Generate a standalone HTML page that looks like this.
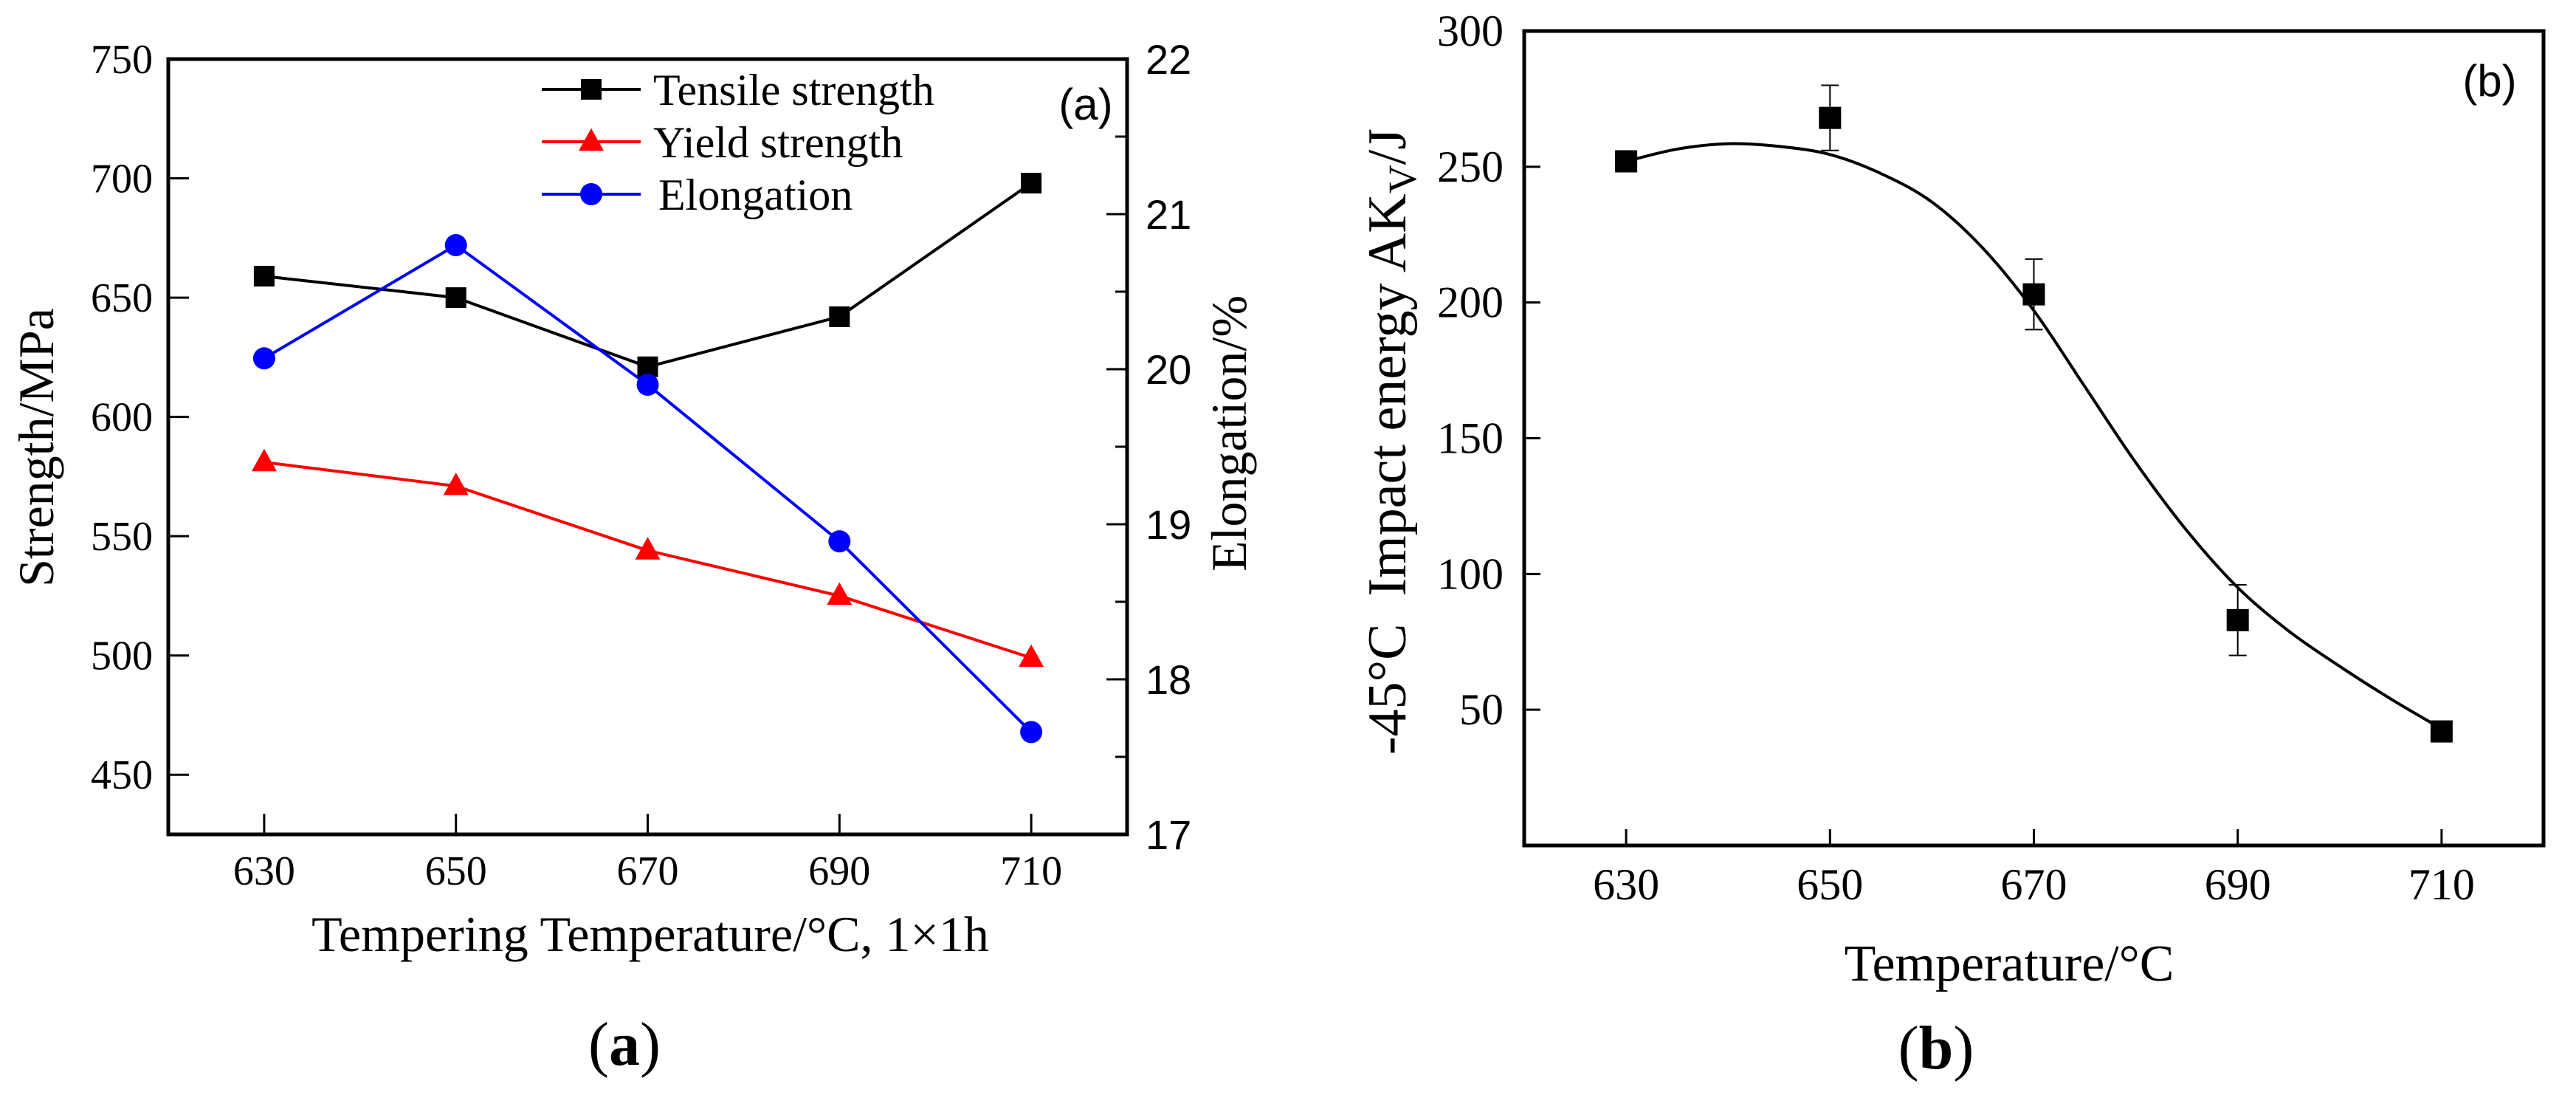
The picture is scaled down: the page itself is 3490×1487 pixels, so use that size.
<!DOCTYPE html>
<html><head><meta charset="utf-8">
<style>
html,body{margin:0;padding:0;background:#fff;}
svg{display:block;}
text{font-family:"Liberation Serif",serif;fill:#000;}
.sans{font-family:"Liberation Sans",sans-serif;}
</style></head>
<body>
<svg id="fig" width="3490" height="1487" viewBox="0 0 3490 1487" xmlns="http://www.w3.org/2000/svg">
<g id="pa"></g>
<g id="pb"></g>
</svg>
<script>
// Panel (a) data
const tempsA = [630, 650, 670, 690, 710];
const tensile = [659, 650, 621, 642, 698];
const yieldS = [581, 571, 544, 525, 499];
const elong = [20.07, 20.80, 19.90, 18.89, 17.66];
const xTicksA = [630, 650, 670, 690, 710];
const yTicksA = [450, 500, 550, 600, 650, 700, 750];
const y2TicksA = [17, 18, 19, 20, 21, 22];
// Panel (b) data
const tempsB = [630, 650, 670, 690, 710];
const impact = [252, 268, 203, 83, 42];
const impactErr = [3, 12, 13, 13, 2];
const fitX = [630,635,640,645,650,655,660,665,670,675,680,685,690,695,700,705,710];
const fitY = [252,256.5,258.5,257.5,254.5,247.5,237,220,197,169,141,116,95,79,66,54,43];
const yTicksB = [50, 100, 150, 200, 250, 300];
const xTicksB = [630, 650, 670, 690, 710];

const NS = "http://www.w3.org/2000/svg";
function mk(parent, tag, attrs, txt){
  const e = document.createElementNS(NS, tag);
  for (const k in attrs) e.setAttribute(k, attrs[k]);
  if (txt !== undefined) e.textContent = txt;
  parent.appendChild(e);
  return e;
}
// ---------- Panel A ----------
const A = document.getElementById('pa');
const aL=228, aR=1527, aT=80, aB=1130;
const xa = v => aL + (v-620)/(720-620)*(aR-aL);
const ya = v => aB - (v-425)/(750-425)*(aB-aT);
const ya2 = v => aB - (v-17)/(22-17)*(aB-aT);

let e;
e = mk(A,'rect',{x:aL,y:aT,width:aR-aL,height:aB-aT,fill:'none',stroke:'#000','stroke-width':5});


xTicksA.forEach(t=>{
  e = mk(A,'line',{x1:xa(t),x2:xa(t),y1:aB,y2:aB-28,stroke:'#000','stroke-width':3});
  
  
  e = mk(A,'text',{x:xa(t),y:1198,'font-size':56,'text-anchor':'middle'},String(t));
  
  
});
yTicksA.forEach(t=>{
  e = mk(A,'line',{x1:aL,x2:aL+28,y1:ya(t),y2:ya(t),stroke:'#000','stroke-width':3});
  
  
  e = mk(A,'text',{x:207,y:ya(t)+19,'font-size':56,'text-anchor':'end'},String(t));
  
  
});
y2TicksA.forEach((t,i)=>{
  e = mk(A,'line',{x1:aR,x2:aR-28,y1:ya2(t),y2:ya2(t),stroke:'#000','stroke-width':3});
  
  
  if (i < y2TicksA.length-1){
    e = mk(A,'line',{x1:aR,x2:aR-16,y1:ya2(t+0.5),y2:ya2(t+0.5),stroke:'#000','stroke-width':3});
    
    
  }
  e = mk(A,'text',{x:1552,y:ya2(t)+20,'font-size':56,'class':'sans'},String(t));
  
  
});
e = mk(A,'text',{x:881,y:1288,'font-size':68,'text-anchor':'middle'},'Tempering Temperature/°C, 1×1h');


e = mk(A,'text',{x:0,y:0,'font-size':68,'text-anchor':'middle',transform:'translate(72,606) rotate(-90)'},'Strength/MPa');


e = mk(A,'text',{x:0,y:0,'font-size':68,'text-anchor':'middle',transform:'translate(1688,587) rotate(-90)'},'Elongation/%');


e = mk(A,'text',{x:1471,y:162,'font-size':60,'text-anchor':'middle','class':'sans'},'(a)');



function poly(parent, pts, color, name){
  const el = mk(parent,'polyline',{points:pts.map(p=>p.join(',')).join(' '),fill:'none',stroke:color,'stroke-width':4});
  
  
}
function square(parent,x,y,s,color){
  const el = mk(parent,'rect',{x:x-s/2,y:y-s/2,width:s,height:s,fill:color});
  
  
}
function tri(parent,x,y,s,color){
  const h = s*0.9;
  const el = mk(parent,'polygon',{points:`${x},${y-h*0.6} ${x-s/2},${y+h*0.4} ${x+s/2},${y+h*0.4}`,fill:color});
  
  
}
function circ(parent,x,y,r,color){
  const el = mk(parent,'circle',{cx:x,cy:y,r:r,fill:color});
  
  
}
poly(A, tempsA.map((t,i)=>[xa(t),ya(tensile[i])]), '#000', 'tensile-line');
poly(A, tempsA.map((t,i)=>[xa(t),ya(yieldS[i])]), '#f00', 'yield-line');
poly(A, tempsA.map((t,i)=>[xa(t),ya2(elong[i])]), '#00f', 'elongation-line');
tempsA.forEach((t,i)=>square(A,xa(t),ya(tensile[i]),28,'#000'));
tempsA.forEach((t,i)=>tri(A,xa(t),ya(yieldS[i]),34,'#f00'));
tempsA.forEach((t,i)=>circ(A,xa(t),ya2(elong[i]),15,'#00f'));
// legend
const leg = [['Tensile strength','#000','sq',121],['Yield strength','#f00','tri',192],['Elongation','#00f','ci',263]];
leg.forEach(l=>{
  const g = mk(A,'g',{});
  
  
  mk(g,'line',{x1:734,x2:868,y1:l[3],y2:l[3],stroke:l[1],'stroke-width':4});
  if(l[2]==='sq') square(g,801,l[3],28,l[1]);
  if(l[2]==='tri') tri(g,801,l[3],34,l[1]);
  if(l[2]==='ci') circ(g,801,l[3],15,l[1]);
  mk(g,'text',{x:l[2]==='ci'?892:885,y:l[3]+21,'font-size':60},l[0]);
});
e = mk(A,'text',{x:846,y:1442,'font-size':84,'text-anchor':'middle'},'');


mk(e,'tspan',{},'(');
mk(e,'tspan',{'font-weight':'bold'},'a');
mk(e,'tspan',{},')');

// ---------- Panel B ----------
const B = document.getElementById('pb');
const bL=2065, bR=3446, bT=42, bB=1145;
const xb = v => bL + (v-620)/(720-620)*(bR-bL);
const yb = v => bB - (v-0)/(300-0)*(bB-bT);
e = mk(B,'rect',{x:bL,y:bT,width:bR-bL,height:bB-bT,fill:'none',stroke:'#000','stroke-width':5});


xTicksB.forEach(t=>{
  e = mk(B,'line',{x1:xb(t),x2:xb(t),y1:bB,y2:bB-22,stroke:'#000','stroke-width':3});
  
  
  e = mk(B,'text',{x:xb(t),y:1218,'font-size':60,'text-anchor':'middle'},String(t));
  
  
});
yTicksB.forEach(t=>{
  e = mk(B,'line',{x1:bL,x2:bL+22,y1:yb(t),y2:yb(t),stroke:'#000','stroke-width':3});
  
  
  e = mk(B,'text',{x:2037,y:yb(t)+20,'font-size':60,'text-anchor':'end'},String(t));
  
  
});
e = mk(B,'text',{x:2722,y:1328,'font-size':70,'text-anchor':'middle'},'Temperature/°C');


e = mk(B,'text',{x:0,y:0,'font-size':74,'text-anchor':'middle',transform:'translate(1904,598) rotate(-90)'},'');


mk(e,'tspan',{},'-45°C\u00a0 Impact energy AK');
mk(e,'tspan',{'font-size':54,dy:14},'V');
mk(e,'tspan',{dy:-14},'/J');
e = mk(B,'text',{x:3373,y:130,'font-size':60,'text-anchor':'middle','class':'sans'},'(b)');


// smooth via catmull-rom
function smooth(xs, ys){
  const P = xs.map((t,i)=>[xb(t),yb(ys[i])]);
  let s = 'M'+P[0][0]+','+P[0][1];
  for(let i=0;i<P.length-1;i++){
    const p0=P[Math.max(0,i-1)],p1=P[i],p2=P[i+1],p3=P[Math.min(P.length-1,i+2)];
    const c1=[p1[0]+(p2[0]-p0[0])/6,p1[1]+(p2[1]-p0[1])/6];
    const c2=[p2[0]-(p3[0]-p1[0])/6,p2[1]-(p3[1]-p1[1])/6];
    s+=` C${c1[0]},${c1[1]} ${c2[0]},${c2[1]} ${p2[0]},${p2[1]}`;
  }
  return s;
}
e = mk(B,'path',{d:smooth(fitX,fitY),fill:'none',stroke:'#000','stroke-width':4});


tempsB.forEach((t,i)=>{
  const x=xb(t), y1=yb(impact[i]+impactErr[i]), y2=yb(impact[i]-impactErr[i]);
  const g = mk(B,'g',{stroke:'#000','stroke-width':2});
  
  
  mk(g,'line',{x1:x,x2:x,y1:y1,y2:y2});
  mk(g,'line',{x1:x-12,x2:x+12,y1:y1,y2:y1});
  mk(g,'line',{x1:x-12,x2:x+12,y1:y2,y2:y2});
  square(B,x,yb(impact[i]),30,'#000');
});
e = mk(B,'text',{x:2623,y:1447,'font-size':84,'text-anchor':'middle'},'');


mk(e,'tspan',{},'(');
mk(e,'tspan',{'font-weight':'bold'},'b');
mk(e,'tspan',{},')');
</script>
</body></html>
